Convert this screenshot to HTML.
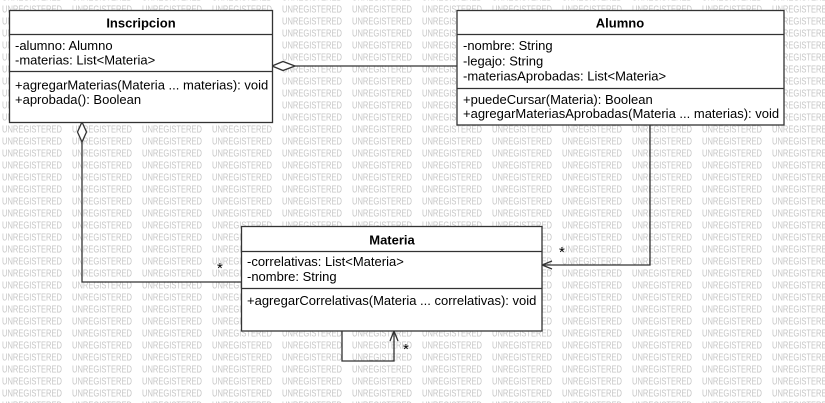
<!DOCTYPE html>
<html><head><meta charset="utf-8"><style>
html,body{margin:0;padding:0;background:#fff;}
svg{display:block;}
text{font-family:"Liberation Sans",sans-serif;font-size:13px;fill:#000;}
.wm{font-size:10.5px;fill:#c6c6c6;}
.b{font-weight:bold;}
</style></head><body>
<svg width="825" height="403" viewBox="0 0 825 403" xmlns="http://www.w3.org/2000/svg">
<defs>
<pattern id="wm" x="1" y="4" width="70" height="12" patternUnits="userSpaceOnUse">
<text class="wm" x="1" y="8.6" textLength="60" lengthAdjust="spacingAndGlyphs">UNREGISTERED</text>
</pattern>
</defs>
<rect x="0" y="0" width="825" height="403" fill="url(#wm)"/>
<g fill="none" stroke="#333" stroke-width="1.3">
<line x1="295" y1="66" x2="457" y2="66"/>
<polygon points="272,66 283,61.5 295,66 283,70.5" fill="#fff"/>
<polyline points="82,142 82,282 241,282"/>
<polygon points="82,122 86.5,132 82,142 77.5,132" fill="#fff"/>
<polyline points="650,125 650,265 542,265"/>
<polyline points="552,261 542,265 552,269"/>
<polyline points="342,331 342,361 394,361 394,331"/>
<polyline points="390,341 394,331 398,341"/>
</g>
<g stroke="#333" stroke-width="1.3" fill="#fff">
<rect x="9.5" y="10.5" width="263" height="112"/>
<rect x="457" y="10.5" width="327" height="114.5"/>
<rect x="241.5" y="226.5" width="300.5" height="104.5"/>
</g>
<g stroke="#333" stroke-width="1.3">
<line x1="9.5" y1="34.5" x2="272.5" y2="34.5"/>
<line x1="9.5" y1="71.5" x2="272.5" y2="71.5"/>
<line x1="457" y1="34.5" x2="784" y2="34.5"/>
<line x1="457" y1="88.5" x2="784" y2="88.5"/>
<line x1="241.5" y1="251.5" x2="542" y2="251.5"/>
<line x1="241.5" y1="288.5" x2="542" y2="288.5"/>
</g>
<text class="b" x="141" y="27.5" text-anchor="middle">Inscripcion</text>
<text x="15" y="50">-alumno: Alumno</text>
<text x="15" y="64.5">-materias: List&lt;Materia&gt;</text>
<text x="15" y="89.5">+agregarMaterias(Materia ... materias): void</text>
<text x="15" y="104">+aprobada(): Boolean</text>

<text class="b" x="620" y="27.5" text-anchor="middle">Alumno</text>
<text x="463" y="50">-nombre: String</text>
<text x="463" y="65.5">-legajo: String</text>
<text x="463" y="80.5">-materiasAprobadas: List&lt;Materia&gt;</text>
<text x="463" y="104">+puedeCursar(Materia): Boolean</text>
<text x="463" y="118">+agregarMateriasAprobadas(Materia ... materias): void</text>

<text class="b" x="392" y="244.5" text-anchor="middle">Materia</text>
<text x="247" y="266">-correlativas: List&lt;Materia&gt;</text>
<text x="247" y="281">-nombre: String</text>
<text x="247" y="305">+agregarCorrelativas(Materia ... correlativas): void</text>

<text x="217" y="273" style="font-size:15px">*</text>
<text x="559" y="257" style="font-size:15px">*</text>
<text x="403" y="354" style="font-size:15px">*</text>
</svg>
</body></html>
